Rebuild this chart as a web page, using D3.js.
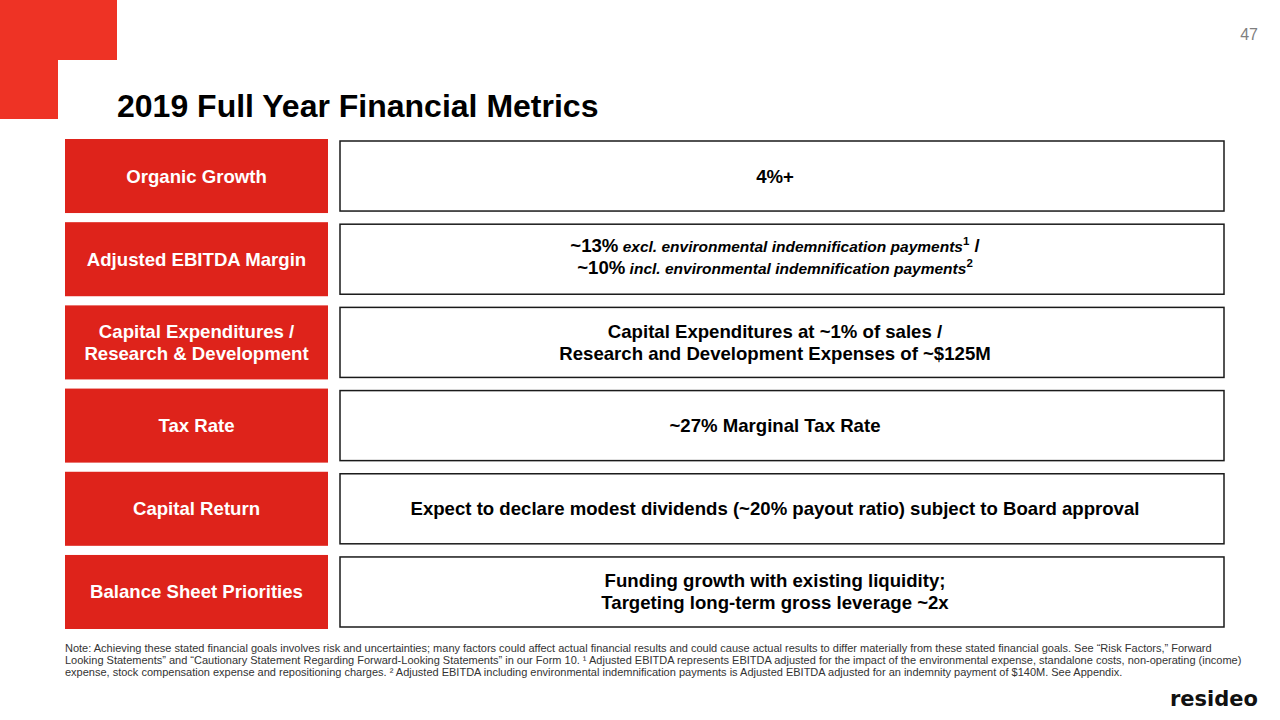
<!DOCTYPE html>
<html>
<head>
<meta charset="utf-8">
<script src="https://cdn.jsdelivr.net/npm/d3@7"></script>
<style>
  html, body { margin: 0; padding: 0; background: #fff; }
  svg { display: block; font-family: "Liberation Sans", Arial, sans-serif; }
</style>
</head>
<body>
<div id="slide"></div>
<script>
var width = 1280;
var height = 720;

// slide content
var slideTitle = "2019 Full Year Financial Metrics";
var pageNumber = "47";

var metricLabels = [
  ["Organic Growth"],
  ["Adjusted EBITDA Margin"],
  ["Capital Expenditures /", "Research & Development"],
  ["Tax Rate"],
  ["Capital Return"],
  ["Balance Sheet Priorities"]
];

// each line is a list of [text, style] pieces
var metricValues = [
  [[["4%+", "b"]]],
  [[["~13%", "b"], [" excl. environmental indemnification payments", "i"], ["1", "sup"], [" /", "b"]],
   [["~10%", "b"], [" incl. environmental indemnification payments", "i"], ["2", "sup"]]],
  [[["Capital Expenditures at ~1% of sales /", "b"]],
   [["Research and Development Expenses of ~$125M", "b"]]],
  [[["~27% Marginal Tax Rate", "b"]]],
  [[["Expect to declare modest dividends (~20% payout ratio) subject to Board approval", "b"]]],
  [[["Funding growth with existing liquidity;", "b"]],
   [["Targeting long-term gross leverage ~2x", "b"]]]
];

var footnoteLines = [
  "Note: Achieving these stated financial goals involves risk and uncertainties; many factors could affect actual financial results and could cause actual results to differ materially from these stated financial goals. See \u201cRisk Factors,\u201d Forward",
  "Looking Statements\u201d and \u201cCautionary Statement Regarding Forward-Looking Statements\u201d in our Form 10. \u00b9 Adjusted EBITDA represents EBITDA adjusted for the impact of the environmental expense, standalone costs, non-operating (income)",
  "expense, stock compensation expense and repositioning charges. \u00b2 Adjusted EBITDA including environmental indemnification payments is Adjusted EBITDA adjusted for an indemnity payment of $140M. See Appendix."
];

var svg = d3.select("#slide")
            .append("svg")
            .attr("width", width)
            .attr("height", height)
            .attr("viewBox", [0, 0, width, height]);

// corner mark
svg.append("path")
   .attr("d", "M0,0H117V60H58V119H0Z")
   .attr("fill", "#EE3325");

svg.append("text")
   .attr("x", 117)
   .attr("y", 117)
   .attr("font-size", 32)
   .attr("font-weight", "bold")
   .attr("fill", "#000")
   .text(slideTitle);

svg.append("text")
   .attr("x", 1258)
   .attr("y", 40)
   .attr("text-anchor", "end")
   .attr("font-size", 16)
   .attr("fill", "#7f7f7f")
   .text(pageNumber);

var y = d3.scaleBand()
          .domain(d3.range(metricLabels.length))
          .range([139, 629])
          .paddingInner(0.11)
          .paddingOuter(0);

var rows = svg.selectAll("g.row")
              .data(d3.range(metricLabels.length))
              .enter()
              .append("g")
              .attr("class", "row")
              .attr("transform", function(i) { return "translate(0," + y(i) + ")"; });

var bw = y.bandwidth();
var lineGap = 22;
var mainSize = 18.6;

function lineY(k, n) {
  return bw / 2 + 6.5 + (k - (n - 1) / 2) * lineGap;
}

// red label boxes
rows.append("rect")
    .attr("x", 65)
    .attr("width", 263)
    .attr("height", bw)
    .attr("fill", "#DE231B");

rows.each(function(i) {
  var g = d3.select(this);
  var lines = metricLabels[i];
  lines.forEach(function(line, k) {
    g.append("text")
     .attr("x", 196.5)
     .attr("y", lineY(k, lines.length))
     .attr("fill", "#fff")
     .attr("font-size", mainSize)
     .attr("font-weight", "bold")
     .attr("text-anchor", "middle")
     .text(line);
  });
});

// outlined value boxes
rows.append("rect")
    .attr("x", 340)
    .attr("y", 2)
    .attr("width", 884)
    .attr("height", bw - 4)
    .attr("fill", "#fff")
    .attr("stroke", "#1a1a1a")
    .attr("stroke-width", 1.5);

var pieceStyle = {
  b:   {size: mainSize, italic: false, rise: 0},
  i:   {size: 15.5, italic: true, rise: 0},
  sup: {size: 11.5, italic: false, rise: 7}
};

rows.each(function(i) {
  var g = d3.select(this);
  var lines = metricValues[i];
  // superscripts push the block up a little
  var hasSup = lines.some(function(l) { return l.some(function(p) { return p[1] == "sup"; }); });
  lines.forEach(function(pieces, k) {
    var t = g.append("text")
             .attr("x", 775)
             .attr("y", lineY(k, lines.length) - (hasSup ? 2.5 : 0))
             .attr("fill", "#000")
             .attr("font-weight", "bold")
             .attr("text-anchor", "middle");
    var rise = 0;
    pieces.forEach(function(p) {
      var st = pieceStyle[p[1]];
      t.append("tspan")
       .attr("font-size", st.size)
       .attr("font-style", st.italic ? "italic" : "normal")
       .attr("dy", rise - st.rise)
       .text(p[0]);
      rise = st.rise;
    });
  });
});

// footnote
svg.append("text")
   .attr("font-size", 11)
   .attr("fill", "#333")
   .selectAll("tspan")
   .data(footnoteLines)
   .enter()
   .append("tspan")
   .attr("x", 65)
   .attr("y", function(d, i) { return 652 + i * 12; })
   .text(function(d) { return d; });

// wordmark
svg.append("text")
   .attr("x", 1170)
   .attr("y", 706)
   .attr("font-family", "DejaVu Sans")
   .attr("font-weight", "bold")
   .attr("font-size", 22)
   .attr("textLength", 88)
   .attr("lengthAdjust", "spacingAndGlyphs")
   .attr("fill", "#111")
   .text("resideo");
</script>
</body>
</html>
